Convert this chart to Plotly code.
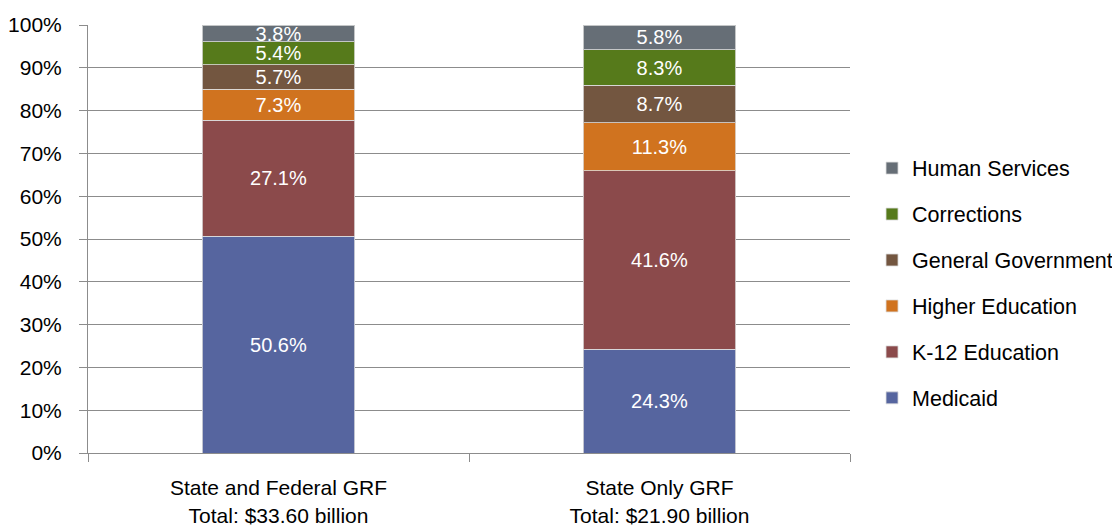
import plotly.graph_objects as go

categories = ["State and Federal GRF<br>Total: $33.60 billion", "State Only GRF<br>Total: $21.90 billion"]
series_names = ["Medicaid", "K-12 Education", "Higher Education", "General Government", "Corrections", "Human Services"]
medicaid = [50.6, 24.3]
k12 = [27.1, 41.6]
higher_ed = [7.3, 11.3]
general_gov = [5.7, 8.7]
corrections = [5.4, 8.3]
human_services = [3.8, 5.8]
colors = ["#56659F", "#8B4A4B", "#D0731F", "#735640", "#567A1B", "#666E76"]
y_ticks = [0, 10, 20, 30, 40, 50, 60, 70, 80, 90, 100]
y_tick_labels = [f"{t}%" for t in y_ticks]

FONT = "Liberation Sans Narrow, Arial Narrow, Liberation Sans, Arial, sans-serif"

fig = go.Figure()
series_values = [medicaid, k12, higher_ed, general_gov, corrections, human_services]
n = len(series_names)
for i, (name, vals, col) in enumerate(zip(series_names, series_values, colors)):
    fig.add_trace(go.Bar(
        x=categories, y=vals, name=name, legendgroup=name, legendrank=n - i,
        marker=dict(color=col, line=dict(color="rgba(220,220,220,0.8)", width=1)),
        text=[f"{v:.1f}%" for v in vals], textposition="inside",
        insidetextanchor="middle", textangle=0,
        textfont=dict(color="white", size=20, family=FONT),
        width=0.4,
    ))

fig.update_layout(
    barmode="stack",
    width=1112, height=521,
    margin=dict(l=80, r=270, t=17, b=76),
    plot_bgcolor="white", paper_bgcolor="white",
    font=dict(family=FONT, color="black"),
    uniformtext=dict(minsize=20, mode="show"),
    legend=dict(
        traceorder="grouped", xref="container", yref="container",
        x=0.777, xanchor="left", y=0.732, yanchor="top",
        font=dict(size=21.5, family=FONT), tracegroupgap=15, itemwidth=30,
        maxheight=600,
    ),
    showlegend=True,
)
fig.update_yaxes(
    range=[0, 100], tickvals=y_ticks, ticktext=y_tick_labels,
    showgrid=True, gridcolor="#8C8C8C", gridwidth=1,
    showline=True, linecolor="#8C8C8C", linewidth=1,
    ticks="outside", ticklen=8, tickcolor="#8C8C8C", ticklabelstandoff=13,
    tickfont=dict(size=21, family=FONT), zeroline=False, automargin=False,
)
fig.update_xaxes(
    showline=True, linecolor="#8C8C8C", linewidth=1,
    ticks="outside", ticklen=8, tickcolor="#8C8C8C", tickson="boundaries",
    ticklabelstandoff=16, automargin=False,
    tickfont=dict(size=21, family=FONT),
)

fig.write_html("out.html")
